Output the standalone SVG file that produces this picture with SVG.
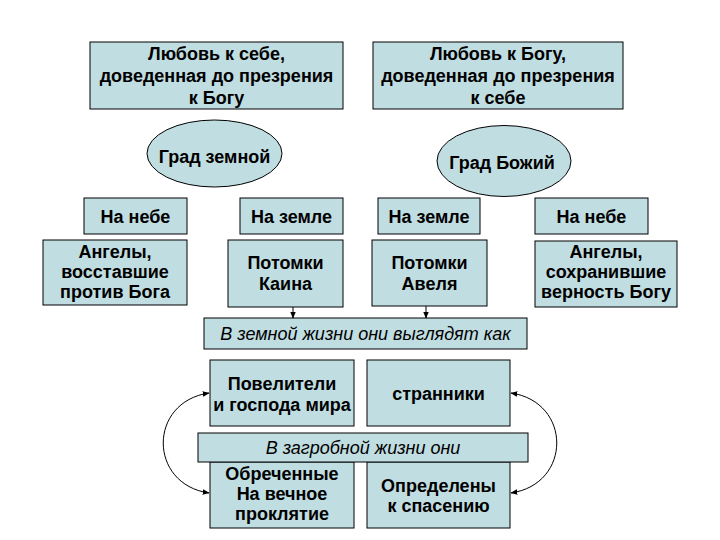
<svg xmlns="http://www.w3.org/2000/svg" width="720" height="540" viewBox="0 0 720 540">
<defs>
<style>
.box{fill:#C0DDE1;stroke:#000;stroke-width:1}
.t{font-family:"Liberation Sans",Arial,sans-serif;font-weight:bold;font-size:18px;fill:#000;text-anchor:middle}
.i{font-family:"Liberation Sans",Arial,sans-serif;font-style:italic;font-size:18px;fill:#000;text-anchor:middle}
.ln{fill:none;stroke:#000;stroke-width:1}
</style>
<marker id="ah" viewBox="0 0 10 10" refX="9" refY="5" markerWidth="7" markerHeight="7" markerUnits="userSpaceOnUse" orient="auto">
<path d="M0,1 L10,5 L0,9 Z" fill="#000"/>
</marker>
<marker id="as" viewBox="0 0 10 10" refX="1" refY="5" markerWidth="7" markerHeight="7" markerUnits="userSpaceOnUse" orient="auto">
<path d="M10,1 L0,5 L10,9 Z" fill="#000"/>
</marker>
</defs>
<rect width="720" height="540" fill="#fff"/>

<g id="love-self">
<rect class="box" x="90" y="42" width="253" height="67"/>
<text class="t" x="216.5" y="59.5">Любовь к себе,</text>
<text class="t" x="216.5" y="81.5">доведенная до презрения</text>
<text class="t" x="216.5" y="103.5">к Богу</text>
</g>
<g id="love-god">
<rect class="box" x="373" y="42" width="250" height="67"/>
<text class="t" x="498" y="59.5">Любовь к Богу,</text>
<text class="t" x="498" y="81.5">доведенная до презрения</text>
<text class="t" x="498" y="103.5">к себе</text>
</g>

<g id="city-earth">
<ellipse class="box" cx="214.5" cy="153.5" rx="67.5" ry="33.5"/>
<text class="t" x="214.5" y="163">Град земной</text>
</g>
<g id="city-god">
<ellipse class="box" cx="504" cy="161" rx="67" ry="35.5"/>
<text class="t" x="502" y="169">Град Божий</text>
</g>

<g id="heaven-1">
<rect class="box" x="84" y="198" width="103" height="36"/>
<text class="t" x="135.5" y="222.5">На небе</text>
</g>
<g id="earth-1">
<rect class="box" x="240" y="198" width="103" height="36"/>
<text class="t" x="291.5" y="222.5">На земле</text>
</g>
<g id="earth-2">
<rect class="box" x="378" y="198" width="102" height="36"/>
<text class="t" x="429" y="222.5">На земле</text>
</g>
<g id="heaven-2">
<rect class="box" x="535" y="198" width="113" height="36"/>
<text class="t" x="591.5" y="222.5">На небе</text>
</g>

<g id="angels-rebel">
<rect class="box" x="43" y="240" width="144" height="65"/>
<text class="t" x="115" y="258">Ангелы,</text>
<text class="t" x="115" y="278">восставшие</text>
<text class="t" x="115" y="298">против Бога</text>
</g>
<g id="cain">
<rect class="box" x="228" y="240" width="115" height="67"/>
<text class="t" x="285.5" y="269">Потомки</text>
<text class="t" x="285.5" y="290">Каина</text>
</g>
<g id="abel">
<rect class="box" x="372" y="240" width="115" height="66"/>
<text class="t" x="429.5" y="269">Потомки</text>
<text class="t" x="429.5" y="290">Авеля</text>
</g>
<g id="angels-faithful">
<rect class="box" x="535" y="241" width="142" height="66"/>
<text class="t" x="606" y="258">Ангелы,</text>
<text class="t" x="606" y="278">сохранившие</text>
<text class="t" x="606" y="298">верность Богу</text>
</g>

<g id="earthly-life">
<rect class="box" x="204" y="318" width="323" height="31"/>
<text class="i" x="365.5" y="340">В земной жизни они выглядят как</text>
</g>
<g id="rulers">
<rect class="box" x="210" y="360" width="144" height="66"/>
<text class="t" x="282" y="390">Повелители</text>
<text class="t" x="282" y="411">и господа мира</text>
</g>
<g id="wanderers">
<rect class="box" x="367" y="360" width="143" height="66"/>
<text class="t" x="438.5" y="400">странники</text>
</g>
<g id="doomed">
<rect class="box" x="210" y="462" width="144" height="66"/>
<text class="t" x="282" y="480">Обреченные</text>
<text class="t" x="282" y="500">На вечное</text>
<text class="t" x="282" y="520">проклятие</text>
</g>
<g id="saved">
<rect class="box" x="367" y="462" width="143" height="66"/>
<text class="t" x="438.5" y="492">Определены</text>
<text class="t" x="438.5" y="512">к спасению</text>
</g>
<g id="afterlife">
<rect class="box" x="198" y="433" width="330" height="29"/>
<text class="i" x="363" y="454">В загробной жизни они</text>
</g>

<g id="connectors">
<line class="ln" x1="293" y1="307" x2="293" y2="318" marker-end="url(#ah)"/>
<line class="ln" x1="426" y1="306" x2="426" y2="318" marker-end="url(#ah)"/>
<path class="ln" d="M209,393 C148,402 148,484 209,493" marker-start="url(#as)" marker-end="url(#ah)"/>
<path class="ln" d="M511,393 C572,402 572,484 511,493" marker-start="url(#as)" marker-end="url(#ah)"/>
</g>
</svg>
